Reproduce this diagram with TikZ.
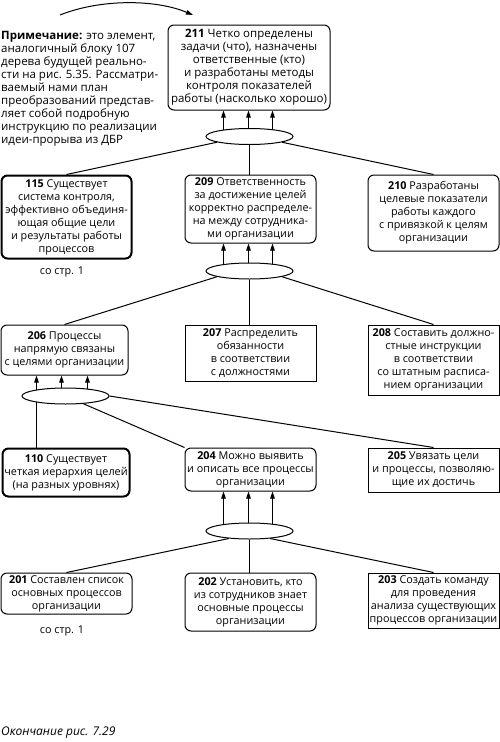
\documentclass[tikz,border=0pt]{standalone}
\usepackage{fontspec}
\setmainfont{Open Sans}
\usetikzlibrary{shapes.geometric,arrows.meta,backgrounds}
\begin{document}
\begin{tikzpicture}[x=1pt,y=-1pt,
  every node/.style={font=\fontsize{10.8}{13}\selectfont},
  big/.style={font=\fontsize{11.5}{13}\selectfont},
  rbox/.style={draw, line width=1pt, rounded corners=6pt, align=center, inner sep=0pt, fill=white},
  sbox/.style={draw, line width=1pt, align=center, inner sep=0pt, fill=white},
  tbox/.style={draw, line width=2pt, rounded corners=6pt, align=center, inner sep=0pt, fill=white},
  oval/.style={draw, ellipse, line width=1pt, fill=white, minimum width=87pt, minimum height=16pt, inner sep=0pt},
  link/.style={line width=1pt},
  arr/.style={line width=1pt, -{Triangle[length=7pt,width=4.5pt]}},
  plain/.style={inner sep=0pt}
]
\useasboundingbox (0,0) rectangle (500,742);

% note
\node[plain, big, align=left, anchor=north west] (note) at (1,31)
 {\textbf{Примечание:} это элемент,\\аналогичный блоку 107\\дерева будущей реально-\\сти на рис. 5.35. Рассматри-\\ваемый нами план\\преобразований представ-\\ляет собой подробную\\инструкцию по реализации\\идеи-прорыва из ДБР};
\coordinate (ca) at (60,15);
\coordinate (cb) at (193,15);
\draw[arr] (ca) .. controls (100,-1) and (155,-1) .. (cb);

% row 1
\node[rbox, big, minimum width=162pt, minimum height=85pt] (n211) at (249,67.5)
 {\textbf{211} Четко определены\\задачи (что), назначены\\ответственные (кто)\\и разработаны методы\\контроля показателей\\работы (насколько хорошо)};
\node[oval] (e1) at (249.5,136.5) {};

% row 2
\node[tbox, minimum width=130pt, minimum height=83pt] (n115) at (66.5,217)
 {\textbf{115} Существует\\система контроля,\\эффективно объединя-\\ющая общие цели\\и результаты работы\\процессов};
\node[plain] (p1) at (62,272) {со стр. 1};
\node[rbox, minimum width=131pt, minimum height=68pt] (n209) at (250.5,209)
 {\textbf{209} Ответственность\\за достижение целей\\корректно распределе-\\на между сотрудника-\\ми организации};
\node[rbox, minimum width=131pt, minimum height=76pt] (n210) at (433.5,213)
 {\textbf{210} Разработаны\\целевые показатели\\работы каждого\\с привязкой к целям\\организации};
\node[oval] (e2) at (249.5,271) {};

% row 3
\node[rbox, minimum width=127pt, minimum height=50pt] (n206) at (64.5,350)
 {\textbf{206} Процессы\\напрямую связаны\\с целями организации};
\node[sbox, minimum width=131pt, minimum height=56pt] (n207) at (250.5,353)
 {\textbf{207} Распределить\\обязанности\\в соответствии\\с должностями};
\node[sbox, minimum width=131pt, minimum height=70pt] (n208) at (433.5,360)
 {\textbf{208} Составить должно-\\стные инструкции\\в соответствии\\со штатным расписа-\\нием организации};
\node[oval] (e3) at (65.5,396) {};

% row 4
\node[tbox, minimum width=127pt, minimum height=48pt] (n110) at (66,472.5)
 {\textbf{110} Существует\\четкая иерархия целей\\(на разных уровнях)};
\node[rbox, minimum width=131pt, minimum height=43pt] (n204) at (250.5,469.5)
 {\textbf{204} Можно выявить\\и описать все процессы\\организации};
\node[sbox, minimum width=131pt, minimum height=44pt] (n205) at (433.5,470)
 {\textbf{205} Увязать цели\\и процессы, позволяю-\\щие их достичь};
\node[oval] (e4) at (249.5,531) {};

% row 5
\node[rbox, minimum width=131pt, minimum height=41pt] (n201) at (66.5,593.5)
 {\textbf{201} Составлен список\\основных процессов\\организации};
\node[plain] (p2) at (62,631) {со стр. 1};
\node[rbox, minimum width=131pt, minimum height=58pt] (n202) at (250.5,602)
 {\textbf{202} Установить, кто\\из сотрудников знает\\основные процессы\\организации};
\node[sbox, minimum width=131pt, minimum height=55pt] (n203) at (433.5,600.5)
 {\textbf{203} Создать команду\\для проведения\\анализа существующих\\процессов организации};

% caption
\node[plain, anchor=west, font=\fontsize{12}{14}\selectfont\itshape] (cap) at (1,733) {Окончание рис. 7.29};

\begin{scope}[on background layer]
  % ellipse 1
  \foreach \dx in {-26,-1,23}
    \draw[arr] ([xshift=\dx pt]e1.center) -- ([xshift=\dx pt]e1.center |- n211.south);
  \draw[link] (e1.190) -- (n115.north);
  \draw[link] (e1.south) -- (e1.south |- n209.north);
  \draw[link] (e1.-10) -- (n210.north);
  % ellipse 2
  \foreach \dx in {-26,-1,23}
    \draw[arr] ([xshift=\dx pt]e2.center) -- ([xshift=\dx pt]e2.center |- n209.south);
  \draw[link] (e2.190) -- (n206.north);
  \draw[link] (e2.south) -- (e2.south |- n207.north);
  \draw[link] (e2.-10) -- (n208.north);
  % ellipse 3
  \foreach \dx in {-29,-4,22}
    \draw[arr] ([xshift=\dx pt]e3.center) -- ([xshift=\dx pt]e3.center |- n206.south);
  \draw[link] ([xshift=-29pt]e3.center) -- ([xshift=-29pt]e3.center |- n110.north);
  \draw[link] (e3.center) -- (n204.north west);
  \draw[link] (e3.east) -- (n205.north);
  % ellipse 4
  \foreach \dx in {-26,-1,23}
    \draw[arr] ([xshift=\dx pt]e4.center) -- ([xshift=\dx pt]e4.center |- n204.south);
  \draw[link] (e4.200) -- (n201.north);
  \draw[link] (e4.south) -- (e4.south |- n202.north);
  \draw[link] (e4.-20) -- (n203.north);
\end{scope}
\end{tikzpicture}
\end{document}
